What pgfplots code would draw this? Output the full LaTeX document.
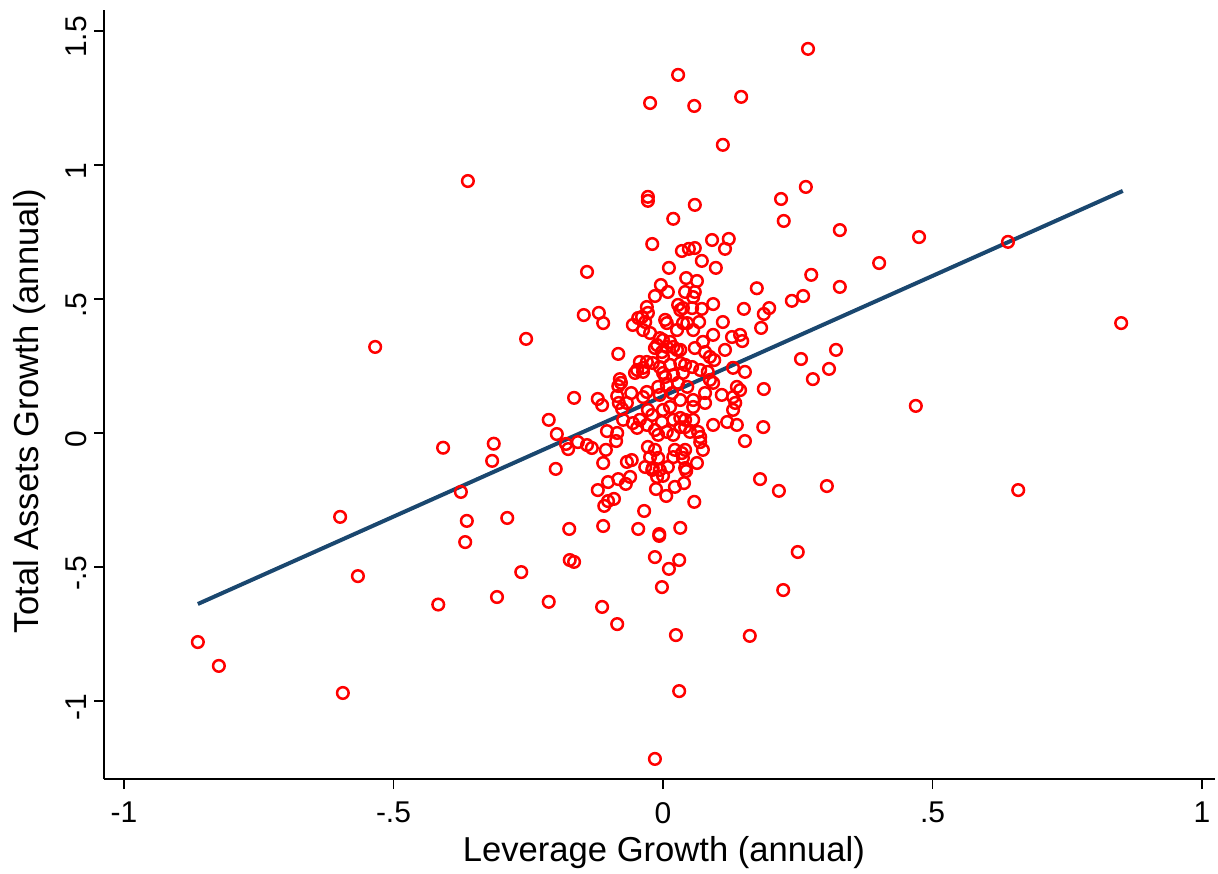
\documentclass[border=0pt]{standalone}
\usepackage{fontspec}
\setmainfont{Liberation Sans}
\usepackage{pgfplots}
\pgfplotsset{compat=1.18}
\definecolor{stnavy}{RGB}{26,71,111}
\begin{document}
\begin{tikzpicture}
\path[use as bounding box] (0,0) rectangle (609pt,-436.5pt);
\begin{axis}[
  at={(52pt,-389.5pt)}, anchor=south west,
  scale only axis, width=555.5pt, height=384.5pt,
  xmin=-1.0371, xmax=1.0241, ymin=-1.291, ymax=1.578,
  axis x line*=bottom, axis y line*=left,
  axis line style={line width=0.8pt, -},
  tick align=outside, major tick length=5pt,
  tick style={line width=0.8pt, black},
  xtick={-1,-0.5,0,0.5,1}, xticklabels={-1,-.5,0,.5,1},
  ytick={-1,-0.5,0,0.5,1,1.5}, yticklabels={-1,-.5,0,.5,1,1.5},
  ticklabel style={font=\fontsize{15}{18}\selectfont},
  xticklabel style={yshift=-3pt},
  yticklabel style={rotate=90, anchor=south, xshift=-3pt},
  xlabel={Leverage Growth (annual)},
  ylabel={Total Assets Growth (annual)},
  label style={font=\fontsize{17.3}{20}\selectfont},
  xlabel style={at={(axis description cs:0.504,-0.096)}, anchor=center},
  ylabel style={at={(axis description cs:-0.0666,0.4785)}, anchor=center, rotate=0},
  clip=false,
]
\addplot[only marks, mark=o, mark size=2.9pt, red, mark options={line width=1.25pt}] table {
x y
-0.863 -0.780
-0.824 -0.869
-0.594 -0.970
-0.599 -0.313
-0.566 -0.534
-0.534 0.321
-0.362 0.940
-0.141 0.601
-0.147 0.440
-0.254 0.351
-0.165 0.131
-0.212 0.049
-0.197 -0.004
-0.180 -0.041
-0.176 -0.060
-0.158 -0.034
-0.141 -0.045
-0.408 -0.055
-0.314 -0.040
-0.317 -0.104
-0.199 -0.134
-0.375 -0.220
-0.364 -0.328
-0.367 -0.407
-0.289 -0.317
-0.174 -0.358
-0.173 -0.474
-0.165 -0.481
-0.263 -0.519
-0.308 -0.612
-0.212 -0.630
-0.417 -0.640
0.028 1.336
-0.024 1.231
0.058 1.220
0.145 1.254
0.111 1.075
-0.028 0.881
-0.028 0.866
0.059 0.851
0.019 0.799
-0.020 0.705
0.035 0.679
0.048 0.687
0.059 0.690
0.091 0.720
0.122 0.724
0.115 0.687
0.072 0.642
0.011 0.616
0.098 0.616
0.043 0.578
0.063 0.567
-0.004 0.552
0.174 0.540
0.269 1.433
0.265 0.918
0.219 0.873
0.224 0.791
0.328 0.757
0.475 0.731
0.640 0.713
0.401 0.634
0.275 0.590
0.328 0.545
0.260 0.511
0.239 0.493
0.197 0.466
0.187 0.444
0.182 0.392
0.850 0.410
0.321 0.310
0.256 0.276
0.308 0.239
0.278 0.201
0.187 0.164
0.469 0.101
0.186 0.022
0.215 -0.216
0.304 -0.198
0.659 -0.213
0.250 -0.444
0.223 -0.586
0.180 -0.172
0.058 -0.257
0.032 -0.354
-0.007 -0.377
-0.007 -0.384
-0.046 -0.358
-0.111 -0.347
-0.035 -0.291
-0.015 -0.463
0.030 -0.474
0.011 -0.507
-0.002 -0.575
-0.113 -0.649
-0.085 -0.713
0.024 -0.754
0.161 -0.757
0.030 -0.963
-0.015 -1.216
-0.121 -0.213
-0.102 -0.183
-0.083 -0.172
-0.061 -0.164
-0.069 -0.190
-0.102 -0.254
-0.091 -0.246
-0.109 -0.272
-0.013 -0.209
0.006 -0.235
0.022 -0.201
0.039 -0.187
-0.011 -0.164
0.000 -0.160
0.043 -0.142
-0.020 -0.138
-0.119 0.448
-0.111 0.410
-0.083 0.295
-0.056 0.403
-0.046 0.429
-0.048 0.235
-0.080 0.201
-0.121 0.127
-0.113 0.104
-0.083 0.175
-0.078 0.187
-0.059 0.149
-0.085 0.138
-0.082 0.112
-0.067 0.112
-0.076 0.090
-0.074 0.049
-0.056 0.037
-0.052 0.224
-0.104 0.007
-0.085 0.000
-0.087 -0.030
-0.132 -0.056
-0.106 -0.063
-0.111 -0.112
-0.067 -0.108
0.009 0.526
-0.015 0.511
0.041 0.526
-0.030 0.470
-0.028 0.448
0.028 0.478
0.032 0.459
0.037 0.466
-0.039 0.433
-0.033 0.414
0.004 0.422
0.007 0.410
0.037 0.410
-0.037 0.384
-0.024 0.373
0.026 0.384
-0.006 0.354
0.000 0.347
-0.011 0.328
0.013 0.340
-0.015 0.317
-0.002 0.302
0.007 0.321
0.019 0.321
0.026 0.310
0.000 0.284
0.032 0.310
-0.043 0.265
-0.030 0.265
-0.037 0.243
-0.019 0.261
-0.006 0.246
0.013 0.254
0.032 0.261
0.000 0.224
0.019 0.216
0.037 0.224
-0.037 0.228
0.004 0.209
-0.009 0.172
0.007 0.179
0.028 0.187
0.045 0.172
-0.030 0.153
-0.037 0.134
-0.006 0.142
0.017 0.149
0.032 0.123
-0.028 0.086
-0.020 0.067
0.000 0.086
0.013 0.097
-0.043 0.049
-0.030 0.030
-0.002 0.041
0.019 0.049
0.032 0.056
0.041 0.022
-0.048 0.019
-0.015 0.011
-0.009 -0.007
0.007 0.004
0.019 -0.007
-0.028 -0.052
-0.015 -0.063
-0.024 -0.090
-0.009 -0.093
0.022 -0.063
0.035 -0.075
0.019 -0.090
0.037 -0.093
-0.033 -0.127
-0.019 -0.131
-0.006 -0.138
0.009 -0.127
-0.058 -0.101
0.059 0.526
0.056 0.507
0.093 0.481
0.054 0.466
0.072 0.463
0.150 0.463
0.045 0.410
0.056 0.384
0.067 0.414
0.111 0.414
0.093 0.366
0.128 0.358
0.143 0.366
0.147 0.343
0.074 0.340
0.059 0.317
0.078 0.302
0.087 0.284
0.095 0.272
0.115 0.310
0.041 0.254
0.054 0.246
0.069 0.235
0.083 0.228
0.130 0.243
0.152 0.228
0.087 0.198
0.093 0.187
0.078 0.149
0.109 0.142
0.137 0.172
0.143 0.160
0.130 0.134
0.134 0.112
0.056 0.123
0.056 0.097
0.078 0.112
0.130 0.086
0.056 0.049
0.093 0.030
0.119 0.041
0.137 0.030
0.152 -0.030
0.050 0.004
0.065 0.004
0.069 -0.015
0.069 -0.034
0.041 0.049
0.032 0.022
0.074 -0.063
0.041 -0.063
0.063 -0.112
0.041 -0.131
};
\addplot[stnavy, line width=2pt] coordinates {(-0.863,-0.638) (0.853,0.903)};
\end{axis}
\end{tikzpicture}
\end{document}
